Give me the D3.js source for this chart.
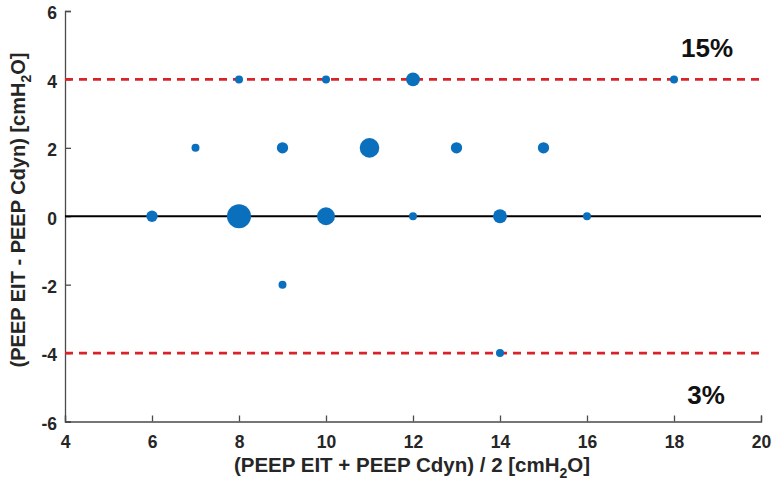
<!DOCTYPE html>
<html><head><meta charset="utf-8">
<script src="https://cdn.jsdelivr.net/npm/d3@7/dist/d3.min.js"></script>
<style>
body{margin:0;background:#fff;}
text{font-family:"Liberation Sans",Arial,sans-serif;font-weight:bold;}
</style></head>
<body><svg id="c" width="774" height="491"></svg>
<script>
// Mean of the two PEEP values (x), difference (y), number of observations (n)
const meanPEEP = [6, 8, 10, 12, 14, 16, 7, 9, 11, 13, 15, 8, 10, 12, 18, 9, 14];
const diffPEEP = [0, 0, 0, 0, 0, 0, 2, 2, 2, 2, 2, 4, 4, 4, 4, -2, -4];
const countN   = [2, 9, 5, 1, 3, 1, 1, 2, 6, 2, 2, 1, 1, 3, 1, 1, 1];
const xTicks = [4, 6, 8, 10, 12, 14, 16, 18, 20];
const yTicks = [-6, -4, -2, 0, 2, 4, 6];
const limits = [4, -4];
const limitLabels = ["15%", "3%"];
const meanDiff = 0;

const svg = d3.select("#c");
const x = d3.scaleLinear().domain([4, 20]).range([65, 761]);
const y = d3.scaleLinear().domain([-6, 6]).range([421.5, 11]);
const r = d3.scaleSqrt().domain([0, 1]).range([0, 4]);
const axisCol = "#4a4a4a";

// axes
const gx = svg.append("g").attr("transform", `translate(0,${y(-6)})`)
  .call(d3.axisBottom(x).tickValues(xTicks).tickSize(-6).tickPadding(13).tickFormat(d3.format("d")));
const gy = svg.append("g").attr("transform", `translate(${x(4)},0)`)
  .call(d3.axisLeft(y).tickValues(yTicks).tickSize(-6).tickPadding(8).tickFormat(d => d < 0 ? "-" + Math.abs(d) : d));
[gx, gy].forEach(g => {
  g.select(".domain").attr("stroke", axisCol).attr("stroke-width", 1.3);
  g.selectAll(".tick line").attr("stroke", axisCol).attr("stroke-width", 1.3);
  g.selectAll(".tick text").attr("fill", "#262626").style("font-size", "17.5px");
});
gx.selectAll(".tick text").attr("dy", "0.75em");
gy.selectAll(".tick text").attr("dy", "0.45em");

// limit lines
svg.selectAll("line.lim").data(limits).enter().append("line").attr("class", "lim")
  .attr("x1", x(4)).attr("x2", x(20)).attr("y1", d => y(d)).attr("y2", d => y(d))
  .attr("stroke", "#d9232b").attr("stroke-width", 2.6).attr("stroke-dasharray", "8,6");
// mean line
svg.append("line").attr("x1", x(4)).attr("x2", x(20)).attr("y1", y(meanDiff)).attr("y2", y(meanDiff))
  .attr("stroke", "#000").attr("stroke-width", 2.2);

// points
svg.selectAll("circle").data(meanPEEP).enter().append("circle")
  .attr("cx", d => x(d)).attr("cy", (d, i) => y(diffPEEP[i])).attr("r", (d, i) => r(countN[i]))
  .attr("fill", "#0a6fbd");

// percent labels
svg.append("text").attr("x", 707).attr("y", 57).attr("text-anchor", "middle")
  .style("font-size", "26px").attr("fill", "#111").text(limitLabels[0]);
svg.append("text").attr("x", 706).attr("y", 404).attr("text-anchor", "middle")
  .style("font-size", "26px").attr("fill", "#111").text(limitLabels[1]);

// axis titles
const xt = svg.append("text").attr("x", 412).attr("y", 472).attr("text-anchor", "middle")
  .style("font-size", "20.5px").attr("fill", "#262626");
xt.append("tspan").text("(PEEP EIT + PEEP Cdyn) / 2 [cmH");
xt.append("tspan").attr("dy", 6).style("font-size", "14px").text("2");
xt.append("tspan").attr("dy", -6).text("O]");

const yt = svg.append("text").attr("transform", "translate(24.5,210) rotate(-90)").attr("text-anchor", "middle")
  .style("font-size", "20px").attr("fill", "#262626");
yt.append("tspan").text("(PEEP EIT - PEEP Cdyn) [cmH");
yt.append("tspan").attr("dy", 6).style("font-size", "14px").text("2");
yt.append("tspan").attr("dy", -6).text("O]");
</script></body></html>
